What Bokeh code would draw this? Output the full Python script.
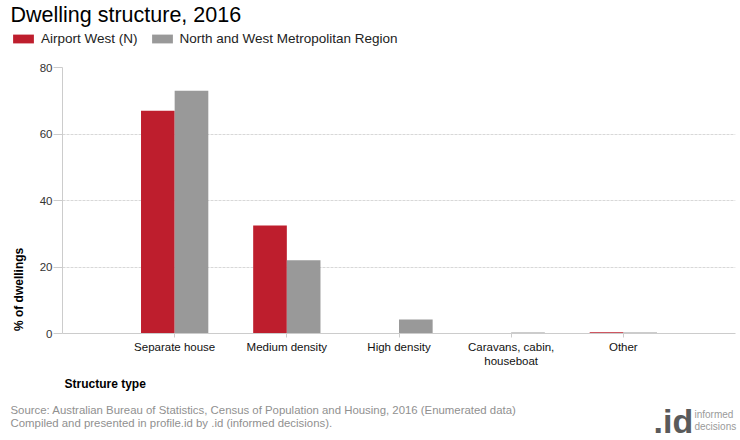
import math
from bokeh.plotting import figure
from bokeh.layouts import column, row
from bokeh.models import (Range1d, FixedTicker, Label, Legend, LegendItem, ColumnDataSource)
from bokeh.embed import file_html
from bokeh.resources import INLINE

# ---- data ----
categories = ["Separate house", "Medium density", "High density", "Caravans, cabin,\nhouseboat", "Other"]
series_names = ["Airport West (N)", "North and West Metropolitan Region"]
airport_west = [67.0, 32.5, 0.0, 0.0, 0.4]
nw_region = [73.0, 22.0, 4.2, 0.3, 0.3]
y_ticks = [0, 20, 40, 60, 80]
colors = ["#BE1E2D", "#999999"]

FONT = "Liberation Sans"
W = 740
TOP_H = 52          # header height
MID_BOTTOM = 372    # page y where the footer starts
LEFT_W = 36         # width of strip holding the y-axis title
FRAME_L, FRAME_R, FRAME_T, FRAME_B = 61, 735, 67, 333


def blank_fig(width, height, y_top):
    f = figure(width=width, height=height, output_backend="svg", toolbar_location=None,
               title_location=None, x_range=Range1d(0, width), y_range=Range1d(y_top + height, y_top),
               x_axis_type=None, y_axis_type=None,
               min_border_left=0, min_border_right=0, min_border_top=0, min_border_bottom=0)
    f.outline_line_color = None
    f.xgrid.visible = False
    f.ygrid.visible = False
    return f


def add_label(fig, text, px, py, size, color="#000000", style="normal", align="left",
              baseline="middle", angle=0.0):
    fig.add_layout(Label(x=px, y=py, text=text, text_font=FONT, text_font_size=size,
                         text_color=color, text_font_style=style, text_align=align,
                         text_baseline=baseline, angle=angle))


# ---- main chart ----
mid_h = MID_BOTTOM - TOP_H
p = figure(width=W - LEFT_W, height=mid_h, output_backend="svg", toolbar_location=None,
           title_location=None,
           x_range=Range1d(0, len(categories) + 1), y_range=Range1d(0, 80),
           min_border_left=FRAME_L - LEFT_W, min_border_right=W - FRAME_R,
           min_border_top=FRAME_T - TOP_H, min_border_bottom=MID_BOTTOM - FRAME_B)
p.outline_line_color = None

xs = list(range(1, len(categories) + 1))
bw = 0.3
src_a = ColumnDataSource(dict(x=[x - bw / 2 for x in xs], top=airport_west))
src_b = ColumnDataSource(dict(x=[x + bw / 2 for x in xs], top=nw_region))
p.vbar(x="x", top="top", width=bw, bottom=0, source=src_a, fill_color=colors[0], line_color=None)
p.vbar(x="x", top="top", width=bw, bottom=0, source=src_b, fill_color=colors[1], line_color=None)

p.xgrid.visible = False
p.ygrid.grid_line_color = "#d8d8d8"
p.ygrid.grid_line_dash = "3 1"
p.ygrid.ticker = FixedTicker(ticks=y_ticks)

p.yaxis.ticker = FixedTicker(ticks=y_ticks)
p.yaxis.axis_line_color = "#cccccc"
p.yaxis.major_tick_line_color = "#cccccc"
p.yaxis.major_tick_out = 9
p.yaxis.major_tick_in = 0
p.yaxis.minor_tick_line_color = None
p.yaxis.major_label_standoff = 1
p.yaxis.major_label_text_font = FONT
p.yaxis.major_label_text_font_size = "11.5px"
p.yaxis.major_label_text_color = "#333333"

p.xaxis.ticker = FixedTicker(ticks=xs)
p.xaxis.major_label_overrides = {x: c for x, c in zip(xs, categories)}
p.xaxis.axis_line_color = "#cccccc"
p.xaxis.major_tick_line_color = "#cccccc"
p.xaxis.major_tick_out = 4
p.xaxis.major_tick_in = 0
p.xaxis.minor_tick_line_color = None
p.xaxis.major_label_standoff = 3
p.xaxis.major_label_text_font = FONT
p.xaxis.major_label_text_font_size = "11.5px"
p.xaxis.major_label_text_color = "#111111"

# ---- header: title + legend ----
hdr = blank_fig(W, TOP_H, 0)
add_label(hdr, "Dwelling structure, 2016", 10, 14, "21.5px", "#000000", baseline="middle")
# legend swatches take their look from hidden renderers of the same series
la = hdr.vbar(x="x", top="top", width=bw, source=src_a, fill_color=colors[0], line_color=None, visible=False)
lb = hdr.vbar(x="x", top="top", width=bw, source=src_b, fill_color=colors[1], line_color=None, visible=False)
legend = Legend(items=[LegendItem(label=series_names[0], renderers=[la]),
                       LegendItem(label=series_names[1], renderers=[lb])],
                orientation="horizontal", location=(10, TOP_H - 46),
                padding=0, margin=0, spacing=11, label_standoff=5,
                glyph_width=26, glyph_height=11, label_height=12,
                label_text_font=FONT, label_text_font_size="13.5px", label_text_color="#222222",
                inactive_fill_alpha=0.0,
                border_line_color=None, background_fill_alpha=0)
hdr.add_layout(legend, "center")

# ---- left strip: y axis title ----
lft = blank_fig(LEFT_W, mid_h, TOP_H)
add_label(lft, "% of dwellings", 18, 319, "12px", "#000000", style="bold", align="center",
          angle=math.pi / 2)

# ---- footer ----
ftr = blank_fig(W, 440 - MID_BOTTOM, MID_BOTTOM)
add_label(ftr, "Structure type", 64, 383, "12px", "#000000", style="bold")
add_label(ftr, "Source: Australian Bureau of Statistics, Census of Population and Housing, 2016 (Enumerated data)",
          10, 409, "11.4px", "#909090")
add_label(ftr, "Compiled and presented in profile.id by .id (informed decisions).", 10, 422, "11.4px", "#909090")
add_label(ftr, ".id", 653, 420, "34px", "#5a5a5a", style="bold")
add_label(ftr, "informed", 694, 414, "10px", "#9a9a9a")
add_label(ftr, "decisions", 694, 426, "10px", "#9a9a9a")

layout = column(hdr, row(lft, p, spacing=0), ftr, spacing=0)
open("out.html", "w").write(file_html(layout, INLINE))
